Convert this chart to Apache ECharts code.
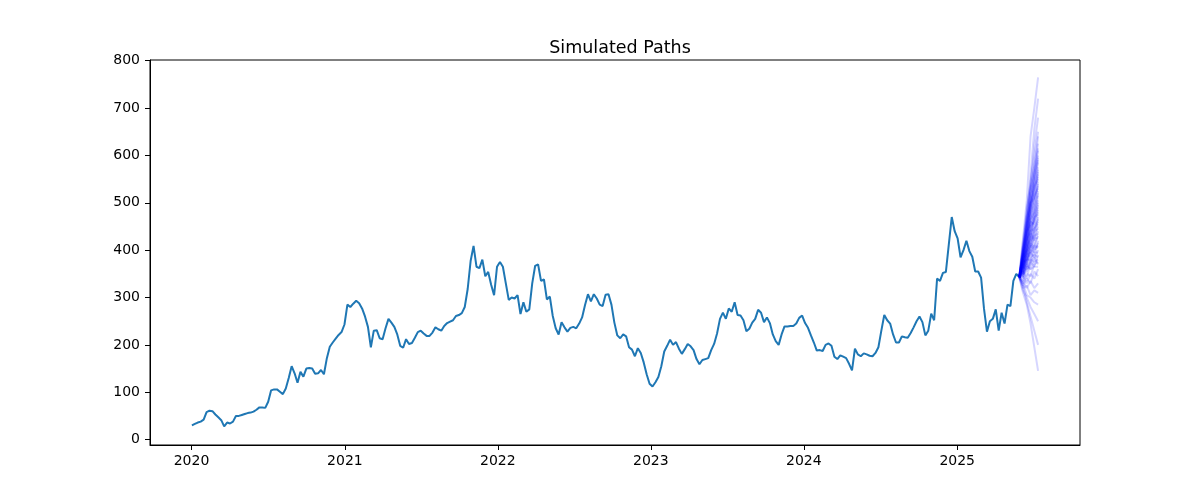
<!DOCTYPE html>
<html>
<head>
<meta charset="utf-8">
<script src="https://cdn.jsdelivr.net/npm/echarts@6/dist/echarts.min.js"></script>
<style>
  html, body { margin: 0; padding: 0; background: #fff; }
  #chart { width: 1200px; height: 500px; }
</style>
</head>
<body>
<div id="chart"></div>
<script>
// weekly closes, starting 2020-01-02
var histStart = new Date(2020, 0, 2);
var histStepDays = 7;
var histValues = [
  30, 33, 36, 38, 42, 58, 61, 60, 53, 47,
  41, 28, 36, 34, 38, 50, 50, 52, 54, 56,
  57, 59, 63, 68, 68, 67, 80, 104, 106, 106,
  101, 96, 108, 130, 155, 140, 120, 143, 133, 150,
  151, 150, 139, 140, 147, 138, 172, 196, 205, 213,
  221, 227, 243, 285, 280, 287, 293, 288, 277, 260,
  238, 195, 230, 231, 214, 212, 235, 255, 247, 238,
  222, 198, 194, 212, 202, 204, 215, 227, 230, 224,
  219, 219, 226, 237, 233, 230, 240, 246, 249, 252,
  261, 263, 267, 280, 318, 377, 409, 365, 362, 380,
  345, 354, 327, 305, 365, 375, 365, 330, 295, 300,
  298, 305, 265, 290, 270, 275, 330, 367, 370, 335,
  338, 296, 302, 261, 235, 222, 248, 237, 228, 236,
  238, 235, 245, 258, 284, 307, 292, 307, 298, 285,
  282, 306, 307, 285, 247, 220, 214, 222, 218, 195,
  190, 176, 193, 183, 163, 138, 118, 112, 121, 132,
  155, 186, 198, 211, 200, 206, 192, 181, 191, 202,
  197, 189, 170, 159, 168, 170, 172, 189, 202, 224,
  255, 268, 255, 277, 270, 290, 263, 262, 252, 229,
  234, 247, 255, 274, 268, 248, 258, 246, 222, 208,
  200, 222, 239, 239, 240, 240, 245, 257, 262, 246,
  236, 220, 205, 188, 189, 187, 200, 203, 198, 175,
  170, 178, 175, 172, 160, 146, 192, 180, 176, 182,
  180, 177, 176, 183, 195, 230, 263, 252, 245, 222,
  205, 205, 218, 216, 215, 225, 237, 250, 260, 248,
  220, 230, 266, 252, 340, 335, 352, 354, 412, 470,
  440, 425, 385, 400, 420, 398, 386, 355, 355, 342,
  276, 228, 250, 255, 275, 230, 268, 245, 285, 282,
  335, 350, 343
];

// simulated paths, one point every 9 days from the last close
var pathStepDays = 9;
var simPaths = [
  [343, 425, 505, 640, 700, 765],
  [343, 410, 470, 560, 655, 720],
  [343, 395, 490, 540, 620, 680],
  [343, 380, 455, 530, 575, 640],
  [343, 400, 440, 500, 560, 610],
  [343, 370, 430, 485, 545, 590],
  [343, 390, 420, 470, 520, 570],
  [343, 365, 415, 500, 510, 555],
  [343, 375, 400, 455, 495, 540],
  [343, 360, 420, 445, 480, 525],
  [343, 385, 395, 430, 470, 515],
  [343, 355, 405, 460, 455, 500],
  [343, 370, 380, 420, 465, 490],
  [343, 360, 395, 410, 440, 480],
  [343, 350, 390, 435, 420, 470],
  [343, 380, 370, 400, 445, 460],
  [343, 355, 385, 390, 425, 450],
  [343, 345, 370, 415, 405, 440],
  [343, 365, 360, 380, 410, 430],
  [343, 340, 375, 395, 385, 420],
  [343, 350, 355, 370, 400, 410],
  [343, 335, 365, 360, 380, 400],
  [343, 355, 340, 375, 365, 390],
  [343, 330, 350, 345, 370, 375],
  [343, 345, 330, 350, 340, 360],
  [343, 325, 340, 330, 355, 345],
  [343, 335, 320, 335, 320, 330],
  [343, 320, 325, 305, 315, 310],
  [343, 330, 305, 300, 290, 285],
  [343, 315, 300, 280, 265, 250],
  [343, 325, 290, 260, 230, 200],
  [343, 310, 285, 245, 195, 145],
  [343, 390, 450, 490, 530, 560],
  [343, 380, 430, 470, 500, 545],
  [343, 395, 425, 480, 515, 530],
  [343, 370, 440, 455, 490, 520],
  [343, 385, 410, 465, 480, 505],
  [343, 375, 420, 440, 475, 495],
  [343, 365, 405, 450, 460, 485],
  [343, 390, 400, 430, 470, 475],
  [343, 360, 410, 425, 450, 465],
  [343, 370, 395, 440, 445, 455],
  [343, 380, 390, 415, 440, 445],
  [343, 355, 400, 420, 430, 435],
  [343, 365, 385, 405, 425, 425],
  [343, 375, 380, 410, 400, 415],
  [343, 350, 390, 395, 410, 405],
  [343, 360, 375, 400, 395, 395],
  [343, 370, 365, 385, 390, 385],
  [343, 345, 380, 380, 375, 380],
  [343, 355, 360, 375, 385, 370],
  [343, 350, 370, 360, 365, 365],
  [343, 400, 460, 510, 545, 585],
  [343, 410, 445, 520, 560, 600],
  [343, 405, 470, 530, 580, 625],
  [343, 395, 455, 525, 570, 615],
  [343, 385, 450, 505, 555, 595],
  [343, 400, 435, 495, 540, 575],
  [343, 390, 465, 500, 525, 565],
  [343, 375, 445, 490, 535, 550],
  [343, 420, 480, 545, 600, 650],
  [343, 380, 425, 475, 510, 535]
];

var yTicks = [0, 100, 200, 300, 400, 500, 600, 700, 800];
var yearTicks = [2020, 2021, 2022, 2023, 2024, 2025];

function addDays(base, n) {
  var d = new Date(base.getTime());
  d.setDate(d.getDate() + n);
  return d;
}

var histData = histValues.map(function (v, i) {
  return [addDays(histStart, i * histStepDays).getTime(), v];
});
var lastDate = addDays(histStart, (histValues.length - 1) * histStepDays);
var yearStamps = yearTicks.map(function (y) { return new Date(y, 0, 1).getTime(); });

var series = [
  {
    name: 'History',
    type: 'line',
    data: histData,
    showSymbol: false,
    lineStyle: { color: '#1f77b4', width: 2 },
    z: 2,
  },
];

simPaths.forEach(function (path, k) {
  series.push({
    name: 'Path ' + (k + 1),
    type: 'line',
    data: path.map(function (v, j) {
      return [addDays(lastDate, j * pathStepDays).getTime(), v];
    }),
    showSymbol: false,
    lineStyle: { color: '#0000ff', width: 2, opacity: 0.16 },
    z: 3,
  });
});

var chart = echarts.init(document.getElementById('chart'));

var option = {
  animation: false,
  backgroundColor: '#fff',
  textStyle: { fontFamily: 'DejaVu Sans' },
  title: {
    text: 'Simulated Paths',
    left: 615,
    top: 34,
    textAlign: 'center',
    textStyle: { fontFamily: 'DejaVu Sans', fontSize: 17.5, fontWeight: 'normal', color: '#000' },
  },
  grid: {
    left: 150,
    right: 120,
    top: 60,
    bottom: 55,
    show: true,
    borderColor: '#000',
    borderWidth: 1,
  },
  xAxis: {
    type: 'value',
    scale: true,
    min: new Date(2019, 8, 24).getTime(),
    max: new Date(2025, 9, 21).getTime(),
    axisLine: { onZero: false, lineStyle: { color: '#000', width: 1 } },
    axisTick: { length: 5, lineStyle: { color: '#000' }, customValues: yearStamps },
    axisLabel: {
      color: '#000',
      fontSize: 14,
      margin: 9,
      customValues: yearStamps,
      formatter: function (val) { return String(new Date(val).getFullYear()); },
    },
    splitLine: { show: false },
  },
  yAxis: {
    type: 'value',
    min: -11.4,
    max: 801.5,
    axisLine: { show: true, lineStyle: { color: '#000', width: 1 } },
    axisTick: { show: true, length: 5, lineStyle: { color: '#000' }, customValues: yTicks },
    axisLabel: { color: '#000', fontSize: 14, margin: 10, customValues: yTicks },
    splitLine: { show: false },
  },
  series: series,
};

chart.setOption(option);
</script>
</body>
</html>
